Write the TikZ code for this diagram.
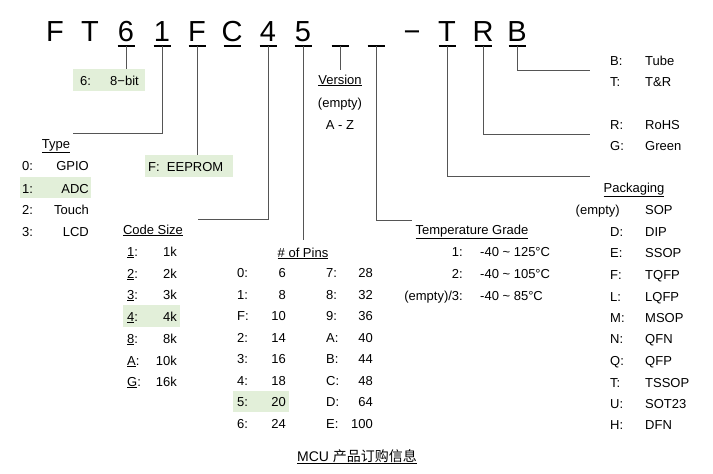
\documentclass[tikz,border=0pt]{standalone}
\usepackage{fontspec}
\setmainfont{Liberation Sans}
\newfontfamily\cjk{Noto Sans CJK SC}
\definecolor{hl}{HTML}{E2EFD9}
\definecolor{ln}{HTML}{555555}
\begin{document}
\begin{tikzpicture}[x=1pt,y=-1pt,
  big/.style={font=\fontsize{29}{30}\selectfont,anchor=base,inner sep=0},
  t/.style={font=\fontsize{13}{15}\selectfont,anchor=base,inner sep=0},
  tl/.style={t,anchor=base west},
  tr/.style={t,anchor=base east},
  conn/.style={draw=ln,line width=0.8pt},
  ul/.style={draw=black,line width=1.2pt},
  box/.style={fill=hl,draw=none}]
\useasboundingbox (0,0) rectangle (713,474);
% green boxes
\fill[hl] (73,69) rectangle (145,91);
\fill[hl] (20,177) rectangle (91,198);
\fill[hl] (145,155) rectangle (233,177);
\fill[hl] (123,305) rectangle (180,327);
\fill[hl] (233,391) rectangle (289,412);
% big letters
\foreach \c/\x/\n in {F/55/a,T/90/b,6/126/c,1/162/d,F/197/e,C/232/f,4/268/g,5/303/h,−/412/k,T/447/l,R/483/m,B/517/n}
  \node[big] (L\n) at (\x,41) {\c};
\foreach \x/\n in {126/c,162/d,197/e,232/f,268/g,303/h,340/i,376/j,447/l,483/m,517/n}
  {\coordinate (U\n) at (\x,46); \draw[ul] (\x-8.5,46) -- (\x+8.5,46);}
% connectors
\coordinate (c6) at (126,69);
\draw[conn] (Uc) -- (c6);
\node[tl] (s6a) at (80,85) {6:};
\node[tr] (s6b) at (139,85) {8−bit};
\coordinate (c1) at (73,133);
\draw[conn] (Ud) |- (c1);
\coordinate (cF) at (197,155);
\draw[conn] (Ue) -- (cF);
\node[tl] (sF) at (148,171) {F:\ \ EEPROM};
\coordinate (c4) at (198,219);
\draw[conn] (Ug) |- (c4);
\coordinate (c5) at (303,240);
\draw[conn] (Uh) -- (c5);
\coordinate (cv) at (340,70);
\draw[conn] (Ui) -- (cv);
\coordinate (ct) at (412,220);
\draw[conn] (Uj) |- (ct);
\coordinate (cT) at (590,176);
\draw[conn] (Ul) |- (cT);
\coordinate (cR) at (590,134);
\draw[conn] (Um) |- (cR);
\coordinate (cB) at (590,70);
\draw[conn] (Un) |- (cB);
% Type
\node[t] (type) at (56,148) {\underline{Type}};
\foreach \k/\v/\y in {0:/GPIO/170,1:/ADC/193,2:/Touch/214,3:/LCD/236}
  {\node[tl] at (22,\y) {\k}; \node[tr] at (89,\y) {\v};}
% Code size
\node[t] (code) at (153,234) {\underline{Code Size}};
\foreach \k/\v/\y in {1/1k/256,2/2k/278,3/3k/299,4/4k/321,8/8k/343,A/10k/365,G/16k/386}
  {\node[tl] at (127,\y) {\underline{\k}:}; \node[tr] at (177,\y) {\v};}
% Pins
\node[t] (pins) at (303,257) {\underline{\# of Pins}};
\foreach \a/\b/\c/\d/\y in {0/6/7/28/277,1/8/8/32/299,F/10/9/36/320,2/14/A/40/342,3/16/B/44/363,4/18/C/48/385,5/20/D/64/406,6/24/E/100/428}
  {\node[tl] at (237,\y) {\a:}; \node[tr] at (286,\y) {\b};
   \node[tl] at (326,\y) {\c:}; \node[tr] at (373,\y) {\d};}
% Version
\node[t] (ver) at (340,84) {\underline{Version}};
\node[t] at (340,107) {(empty)};
\node[t] at (340,129) {A - Z};
% Temperature
\node[t] (temp) at (472,234) {\underline{Temperature Grade}};
\node[tr] at (463,256) {1:};
\node[tr] at (463,278) {2:};
\node[tr] at (463,300) {(empty)/3:};
\node[tl] at (480,256) {-40 \textasciitilde\ 125°C};
\node[tl] at (480,278) {-40 \textasciitilde\ 105°C};
\node[tl] at (480,300) {-40 \textasciitilde\ 85°C};
% right column
\foreach \k/\v/\y in {B:/Tube/65,T:/T\&R/86,R:/RoHS/129,G:/Green/150}
  {\node[tl] at (610,\y) {\k}; \node[tl] at (645,\y) {\v};}
\node[t] (pack) at (634,192) {\underline{Packaging}};
\node[tr] at (620,214) {(empty)}; \node[tl] at (645,214) {SOP};
\foreach \k/\v/\y in {D/DIP/236,E/SSOP/257,F/TQFP/279,L/LQFP/301,M/MSOP/322,N/QFN/343,Q/QFP/365,T/TSSOP/387,U/SOT23/408,H/DFN/429}
  {\node[tl] at (610,\y) {\k:}; \node[tl] at (645,\y) {\v};}
% caption
\node[t,font=\fontsize{14}{16}\selectfont] (cap) at (357,461) {\underline{MCU {\cjk 产品订购信息}}};
\end{tikzpicture}
\end{document}
